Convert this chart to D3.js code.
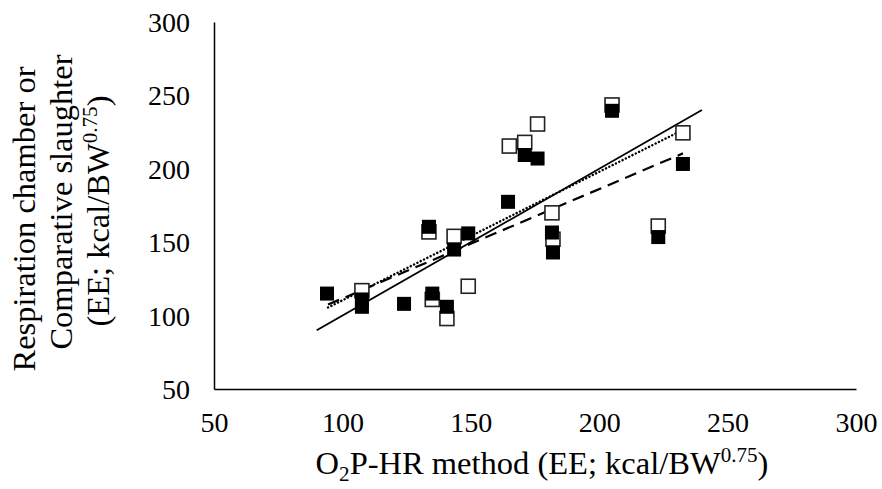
<!DOCTYPE html>
<html>
<head>
<style>
body{
    margin: 0;
    background: #fff;
}
text{
    font-family: "Liberation Serif", "Times New Roman", serif;
    fill: #000;
}
</style>
</head>
<body>
<svg id="chart"></svg>

<script src="https://cdn.jsdelivr.net/npm/d3@7"></script>
<script>
// axis ticks
var xTicks = [50, 100, 150, 200, 250, 300];
var yTicks = [50, 100, 150, 200, 250, 300];

// open squares
var openX = [107.6, 133.7, 135, 140.7, 143.5, 149, 165, 171, 176, 181.6, 182, 205, 223, 232.6];
var openY = [117, 157, 111, 98, 154, 120, 215.5, 218, 230.5, 170, 152, 243.5, 161, 224.5];

// filled squares
var filledX = [94, 107.6, 107.6, 124, 133.7, 135, 140.7, 143.5, 149, 164.5, 171, 176, 181.6, 182, 205, 223, 232.6];
var filledY = [115, 111, 106, 108, 160.5, 115, 106, 145, 156, 177.5, 209.4, 207, 156.6, 143, 239.5, 153.5, 203.3];

// trend lines (end points)
var solidX = [90, 240], solidY = [90, 240];
var dottedX = [94.4, 232.6], dottedY = [105.5, 226.5];
var dashedX = [94.4, 232.6], dashedY = [107.5, 210.5];

var width = 882, height = 489;
var margin = {top: 22, right: 26, bottom: 100, left: 214};

var svg = d3.select('#chart')
    .attr('width', width)
    .attr('height', height);

var x = d3.scaleLinear().domain([50, 300]).range([margin.left, width - margin.right]);
var y = d3.scaleLinear().domain([50, 300]).range([height - margin.bottom, margin.top]);

var fs = 28;   // tick labels
var ts = 32.5; // axis titles

// x axis
var xAxis = svg.append('g')
    .attr('transform', 'translate(0,' + y(50) + ')')
    .call(d3.axisBottom(x).tickValues(xTicks).tickSize(0).tickPadding(0));
xAxis.select('.domain').attr('stroke', '#000').attr('stroke-width', 1.5);
xAxis.selectAll('text')
    .attr('font-size', fs)
    .attr('font-family', '"Liberation Serif", serif')
    .attr('dy', null)
    .attr('y', 43);

// y axis
var yAxis = svg.append('g')
    .attr('transform', 'translate(' + x(50) + ',0)')
    .call(d3.axisLeft(y).tickValues(yTicks).tickSize(0).tickPadding(0));
yAxis.select('.domain').attr('stroke', '#000').attr('stroke-width', 1.5);
yAxis.selectAll('text')
    .attr('font-size', fs)
    .attr('font-family', '"Liberation Serif", serif')
    .attr('x', -24)
    .attr('dy', '0.34em');

// trend lines
function trend(xs, ys, dash, w, cap) {
    var pts = xs.map(function (d, i) { return [d, ys[i]]; });
    svg.append('path')
        .datum(pts)
        .attr('d', d3.line().x(function (d) { return x(d[0]); }).y(function (d) { return y(d[1]); }))
        .attr('fill', 'none')
        .attr('stroke', '#000')
        .attr('stroke-width', w)
        .attr('stroke-linecap', cap)
        .attr('stroke-dasharray', dash);
}
trend(solidX, solidY, null, 1.8, 'butt');
trend(dottedX, dottedY, '0.1,3.6', 2.4, 'round');
trend(dashedX, dashedY, '12,7', 2.2, 'butt');

// markers
var ms = 14;
var openPts = openX.map(function (d, i) { return {x: d, y: openY[i]}; });
var filledPts = filledX.map(function (d, i) { return {x: d, y: filledY[i]}; });

svg.selectAll('.open').data(openPts)
    .enter().append('rect')
    .attr('class', 'open')
    .attr('x', function (d) { return x(d.x) - ms / 2; })
    .attr('y', function (d) { return y(d.y) - ms / 2; })
    .attr('width', ms)
    .attr('height', ms)
    .attr('fill', '#fff')
    .attr('stroke', '#222')
    .attr('stroke-width', 1.6);

svg.selectAll('.filled').data(filledPts)
    .enter().append('rect')
    .attr('class', 'filled')
    .attr('x', function (d) { return x(d.x) - ms / 2; })
    .attr('y', function (d) { return y(d.y) - ms / 2; })
    .attr('width', ms)
    .attr('height', ms)
    .attr('fill', '#000');

// x title
var xt = svg.append('text')
    .attr('x', 542)
    .attr('y', 474)
    .attr('text-anchor', 'middle')
    .attr('font-size', ts);
xt.append('tspan').text('O');
xt.append('tspan').attr('font-size', ts * 0.65).attr('dy', 7).text('2');
xt.append('tspan').attr('dy', -7).text('P-HR method (EE; kcal/BW');
xt.append('tspan').attr('font-size', ts * 0.65).attr('dy', -12).text('0.75');
xt.append('tspan').attr('dy', 12).text(')');

// y title, three lines
var yt = svg.append('g').attr('font-size', ts);
yt.append('text')
    .attr('transform', 'translate(35,219) rotate(-90)')
    .attr('text-anchor', 'middle')
    .text('Respiration chamber or');
yt.append('text')
    .attr('transform', 'translate(72,202) rotate(-90)')
    .attr('text-anchor', 'middle')
    .text('Comparative slaughter');
var l3 = yt.append('text')
    .attr('transform', 'translate(109,211) rotate(-90)')
    .attr('text-anchor', 'middle');
l3.append('tspan').text('(EE; kcal/BW');
l3.append('tspan').attr('font-size', ts * 0.65).attr('dy', -12).text('0.75');
l3.append('tspan').attr('dy', 12).text(')');
</script>
</body>
</html>
